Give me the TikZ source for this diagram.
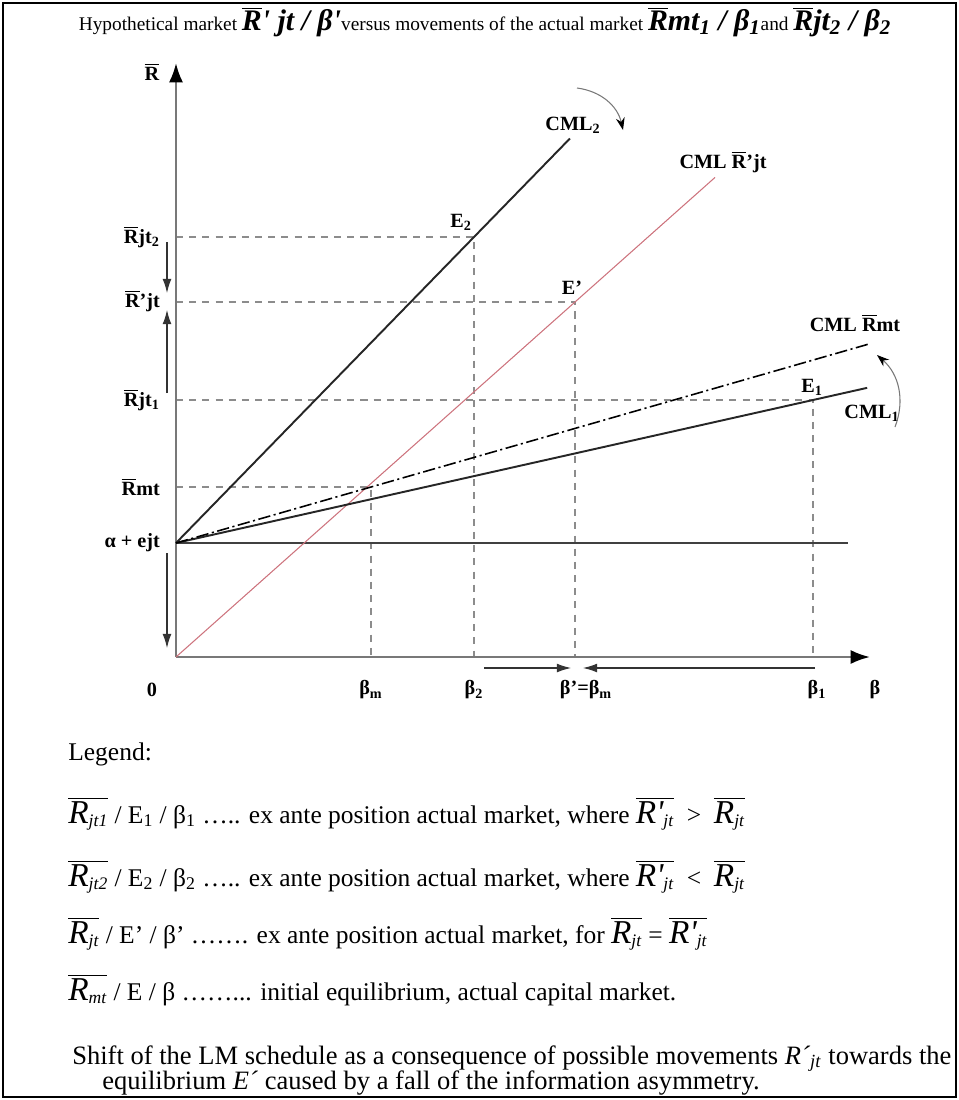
\documentclass[tikz,border=0pt]{standalone}
\usepackage{fontspec}
\setmainfont{Liberation Serif}
\usepackage{tikz}
\usetikzlibrary{positioning,arrows.meta,calc}

\definecolor{axisgray}{RGB}{120,120,120}
\definecolor{dashgray}{RGB}{140,140,140}
\definecolor{cmlred}{RGB}{205,115,125}

\newcommand{\Rb}{$\overline{\mbox{R}}$}
\newcommand{\ttl}{\fontsize{17}{17}\selectfont\bfseries\itshape}
\newcommand{\Rleg}[2]{$\overline{\mbox{\fontsize{19}{19}\selectfont\itshape R#1}_{\mbox{\fontsize{10}{10}\selectfont\itshape #2}}}$}

\begin{document}
\begin{tikzpicture}[x=0.02cm, y=-0.02cm,
  axis/.style={-{Latex[length=11pt, width=8pt, color=black]}, line width=1.4pt, draw=axisgray},
  guide/.style={dash pattern=on 4pt off 3.5pt, draw=dashgray, line width=0.6pt},
  cml/.style={line width=1.1pt, draw=black!85},
  shiftarr/.style={-{Latex[length=8pt, width=5pt]}, line width=0.6pt, draw=black!80},
  bendarr/.style={-{Stealth[length=7pt, width=5pt, color=black]}, line width=0.6pt, draw=axisgray},
  lbl/.style={font=\fontsize{11.5}{13}\selectfont\bfseries, inner sep=1pt},
  leg/.style={font=\fontsize{14.5}{16}\selectfont, anchor=base west, inner sep=0pt}
]
\useasboundingbox (0,0) rectangle (959,1100);
\draw[line width=0.6pt] (3,3) rectangle (956,1097);

\node[font=\fontsize{11}{13}\selectfont, anchor=base] (title) at (485,30)
  {Hypothetical market {\ttl\Rb\textquotesingle{} jt / β\textquotesingle}versus movements of the actual market
   {\ttl\Rb mt\textsubscript{1} / β\textsubscript{1}}and {\ttl\Rb jt\textsubscript{2} / β\textsubscript{2}}};

\coordinate (O) at (176,657);
\coordinate (ytop) at (176,63);
\coordinate (xend) at (870,657);
\coordinate (A) at (176,543);
\coordinate (Aend) at (848,543);
\coordinate (E2) at (474,237);
\coordinate (Ep) at (575,302);
\coordinate (E1) at (813,400);
\coordinate (M) at (371,487);

\draw[guide] (O |- E2) -- (E2) -- (E2 |- O);
\draw[guide] (O |- Ep) -- (Ep) -- (Ep |- O);
\draw[guide] (O |- E1) -- (E1) -- (E1 |- O);
\draw[guide] (O |- M) -- (M) -- (M |- O);

\draw[axis] (O) -- (ytop);
\draw[axis] (O) -- (xend);

\draw[line width=1.3pt, draw=black!75] (A) -- (Aend);
\draw[line width=0.6pt, draw=cmlred] (O) -- ($(O)!1.351!(Ep)$) coordinate (redend);
\draw[cml] (A) -- ($(A)!1.322!(E2)$) coordinate (c2end);
\draw[cml] (A) -- ($(A)!1.085!(E1)$) coordinate (c1end);
\draw[line width=0.9pt, dash pattern=on 7pt off 2pt on 1.2pt off 2pt] (A) -- ($(A)!3.56!(M)$) coordinate (mtend);

\node[lbl] (lR) at (152,72) {\Rb};
\node[lbl, anchor=east] (lRj2) at (162,237) {\Rb jt\textsubscript{2}};
\node[lbl, anchor=east] (lRpj) at (162,301) {\Rb’jt};
\node[lbl, anchor=east] (lRj1) at (162,400) {\Rb jt\textsubscript{1}};
\node[lbl, anchor=east] (lRmt) at (162,487) {\Rb mt};
\node[lbl, anchor=east] (lA) at (162,543) {α + ejt};
\node[lbl] (zero) at (152,690) {0};

\coordinate (la1s) at (167,242); \coordinate (la1e) at (167,293);
\coordinate (la2s) at (167,393); \coordinate (la2e) at (167,310);
\coordinate (la3s) at (167,553); \coordinate (la3e) at (167,648);
\draw[shiftarr] (la1s) -- (la1e);
\draw[shiftarr] (la2s) -- (la2e);
\draw[shiftarr] (la3s) -- (la3e);

\node[lbl] (bm) at (371,690) {β\textsubscript{m}};
\node[lbl] (b2) at (474,690) {β\textsubscript{2}};
\node[lbl] (bp) at (586,690) {β’=β\textsubscript{m}};
\node[lbl] (b1) at (817,690) {β\textsubscript{1}};
\node[lbl] (bx) at (875,690) {β};

\coordinate (ba1s) at (484,668); \coordinate (ba1e) at (571,668);
\coordinate (ba2s) at (815,668); \coordinate (ba2e) at (583,668);
\draw[shiftarr] (ba1s) -- (ba1e);
\draw[shiftarr] (ba2s) -- (ba2e);

\node[lbl] (lE2) at (461,222) {E\textsubscript{2}};
\node[lbl] (lEp) at (572,288) {E’};
\node[lbl] (lE1) at (812,387) {E\textsubscript{1}};
\node[lbl] (lc2) at (573,125) {CML\textsubscript{2}};
\node[lbl] (lcp) at (723,162) {CML \Rb’jt};
\node[lbl] (lcm) at (855,323) {CML \Rb mt};
\node[lbl] (lc1) at (872,413) {CML\textsubscript{1}};

\coordinate (bt1) at (577,88); \coordinate (bt2) at (623,130);
\coordinate (br1) at (895,427); \coordinate (br2) at (877,355);
\draw[bendarr] (bt1) to[bend left=35] (bt2);
\draw[bendarr] (br1) to[bend right=35] (br2);

\node[leg] (legend) at (68,760) {Legend:};
\node[leg] (leg1) at (68,823) {\Rleg{}{jt1} / E\textsubscript{1} / β\textsubscript{1} ….. ex ante position actual market, where \Rleg{\textquotesingle}{jt}\ \ >\ \ \Rleg{}{jt}};
\node[leg] (leg2) at (68,886) {\Rleg{}{jt2} / E\textsubscript{2} / β\textsubscript{2} ….. ex ante position actual market, where \Rleg{\textquotesingle}{jt}\ \ <\ \ \Rleg{}{jt}};
\node[leg] (leg3) at (68,943) {\Rleg{}{jt} / E’ / β’ ……. ex ante position actual market, for \Rleg{}{jt} = \Rleg{\textquotesingle}{jt}};
\node[leg] (leg4) at (68,1000) {\Rleg{}{mt} / E / β ……... initial equilibrium, actual capital market.};

\node[leg, font=\fontsize{15.1}{15}\selectfont] (cap1) at (72,1064) {Shift of the LM schedule as a consequence of possible movements \textit{R´}\textsubscript{\textit{jt}} towards the};
\node[leg, font=\fontsize{15.1}{15}\selectfont] (cap2) at (102,1089) {equilibrium \textit{E´} caused by a fall of the information asymmetry.};
\end{tikzpicture}
\end{document}
